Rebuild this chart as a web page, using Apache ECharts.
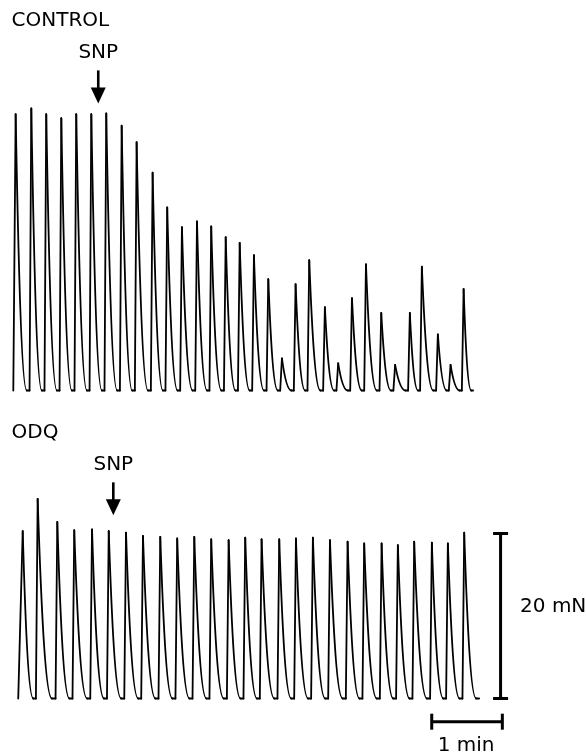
<!DOCTYPE html>
<html>
<head>
<meta charset="utf-8">
<script src="https://cdn.jsdelivr.net/npm/echarts/dist/echarts.min.js"></script>
<style>
html,body{margin:0;padding:0;background:#ffffff;}
#chart{width:586px;height:755px;}
</style>
</head>
<body>
<div id="chart"></div>
<script>
// ---------------- DATA ----------------
// CONTROL trace: time of each contraction peak (s) and its peak force (mN)
const controlPeakTimes = [13.3, 26.6, 39.3, 52.1, 64.8, 77.6, 90.3, 103.4, 116.1, 129.7, 142.1, 154.6, 167.4, 179.5, 191.8, 203.7, 215.8, 228.0, 239.6, 251.2, 262.8, 276.1, 287.4, 299.1, 311.0, 324.0, 335.8, 348.3, 358.5, 372.1, 382.9, 394.0];
const controlPeakForces = [33.5, 34.2, 33.5, 33.0, 33.5, 33.5, 33.6, 32.1, 30.1, 26.4, 22.2, 19.8, 20.5, 19.9, 18.6, 17.9, 16.4, 13.5, 3.9, 12.9, 15.8, 10.1, 3.3, 11.2, 15.3, 9.4, 3.1, 9.4, 15.0, 6.8, 3.1, 12.3];
const controlTraceSpan = [11.3, 402.1];   // start / end of recording (s)

// ODQ trace
const odqPeakTimes = [19.3, 32.0, 48.7, 63.1, 78.2, 92.4, 107.1, 121.5, 136.2, 150.6, 165.1, 179.5, 194.3, 208.4, 222.3, 237.3, 251.5, 265.9, 280.4, 295.4, 309.5, 324.3, 338.1, 352.0, 367.0, 380.6, 394.5];
const odqPeakForces = [20.3, 24.2, 21.4, 20.4, 20.5, 20.3, 20.1, 19.7, 19.6, 19.4, 19.6, 19.3, 19.2, 19.5, 19.3, 19.3, 19.4, 19.5, 19.2, 19.0, 18.8, 18.8, 18.6, 19.0, 18.9, 18.8, 20.1];
const odqTraceSpan = [15.5, 407.2];

// SNP addition times (s)
const snpTimes = [83.5, 96.3];
const panelLabels = ['CONTROL', 'ODQ'];
const snpLabel = 'SNP';

// Calibration bars
const scaleForce = 20;   // mN
const scaleTime = 60;    // s
const scaleForceLabel = '20 mN';
const scaleTimeLabel = '1 min';

// ---------------- LAYOUT / STYLE ----------------
const FONT = '20px "DejaVu Sans", Verdana, sans-serif';
const RISE = 1.5;          // s, rise time drawn for each contraction
const DECAY_FRAC = 0.8;    // fraction of the interval used by the relaxation curve
const TRACE_W = 1.8;
const X_MAX = 498;         // s across full width
const topArrowTip = 34.8, botArrowTip = 22.2; // mN level of arrow tips
const vBarTime = 425.4, hBarStart = 366.9, hBarLevel = -2.81;

function buildTrace(times, forces, span) {
  return times.map(function (t, i) {
    const riseStart = i === 0 ? span[0] : t - RISE;
    const decayEnd = i === times.length - 1 ? span[1] : times[i + 1] - RISE;
    return [t, forces[i], riseStart, decayEnd];
  });
}

function traceItem(params, api) {
  const t = api.value(0), f = api.value(1), rs = api.value(2), de = api.value(3);
  const p0 = api.coord([rs, 0]);
  const pk = api.coord([t, f]);
  const p3 = api.coord([de, 0]);
  const w = (p3[0] - pk[0]) * DECAY_FRAC, h = p3[1] - pk[1];
  const xe = pk[0] + w;
  const st = {stroke: '#000', lineWidth: TRACE_W, fill: 'none', lineCap: 'round', lineJoin: 'round'};
  return {
    type: 'group',
    children: [
      {type: 'line', shape: {x1: p0[0], y1: p0[1], x2: pk[0], y2: pk[1]}, style: st},
      {type: 'bezierCurve', shape: {
        x1: pk[0], y1: pk[1], x2: xe, y2: p3[1],
        cpx1: pk[0] + 0.25 * w, cpy1: pk[1] + 0.55 * h,
        cpx2: pk[0] + 0.55 * w, cpy2: p3[1]
      }, style: st},
      {type: 'line', shape: {x1: xe, y1: p3[1], x2: p3[0], y2: p3[1]}, style: st}
    ]
  };
}

function arrowItem(tipLevel) {
  return function (params, api) {
    const tip = api.coord([api.value(0), tipLevel]);
    const x = tip[0], yTip = tip[1];
    const headH = 16, shaft = 17, halfW = 7.5;
    const yBase = yTip - headH, yTail = yBase - shaft;
    return {
      type: 'group',
      children: [
        {type: 'line', shape: {x1: x, y1: yTail, x2: x, y2: yBase + 2}, style: {stroke: '#000', lineWidth: 2.6}},
        {type: 'polygon', shape: {points: [[x - halfW, yBase], [x + halfW, yBase], [x, yTip]]}, style: {fill: '#000'}},
        {type: 'text', x: x, y: yTail - 18, style: {text: snpLabel, font: FONT, fill: '#000', textAlign: 'center', textVerticalAlign: 'middle'}}
      ]
    };
  };
}

function scaleBarItem(params, api) {
  const v0 = api.coord([vBarTime, 0]);
  const v1 = api.coord([vBarTime, scaleForce]);
  const h0 = api.coord([hBarStart, hBarLevel]);
  const h1 = api.coord([hBarStart + scaleTime, hBarLevel]);
  const st = {stroke: '#000', lineWidth: 3};
  const cap = 7.5;
  return {
    type: 'group',
    children: [
      {type: 'line', shape: {x1: v0[0], y1: v0[1], x2: v1[0], y2: v1[1]}, style: st},
      {type: 'line', shape: {x1: v0[0] - cap, y1: v0[1], x2: v0[0] + cap, y2: v0[1]}, style: st},
      {type: 'line', shape: {x1: v1[0] - cap, y1: v1[1], x2: v1[0] + cap, y2: v1[1]}, style: st},
      {type: 'line', shape: {x1: h0[0], y1: h0[1], x2: h1[0], y2: h1[1]}, style: st},
      {type: 'line', shape: {x1: h0[0], y1: h0[1] - 8, x2: h0[0], y2: h0[1] + 8}, style: st},
      {type: 'line', shape: {x1: h1[0], y1: h1[1] - 8, x2: h1[0], y2: h1[1] + 8}, style: st},
      {type: 'text', x: v0[0] + 19.5, y: (v0[1] + v1[1]) / 2 - 9.5, style: {text: scaleForceLabel, font: FONT, fill: '#000', textAlign: 'left', textVerticalAlign: 'middle'}},
      {type: 'text', x: (h0[0] + h1[0]) / 2 - 1, y: h0[1] + 24, style: {text: scaleTimeLabel, font: FONT, fill: '#000', textAlign: 'center', textVerticalAlign: 'middle'}}
    ]
  };
}

const chart = echarts.init(document.getElementById('chart'), null, {renderer: 'canvas'});
const PXM = 8.25; // px per mN
chart.setOption({
  animation: false,
  backgroundColor: '#ffffff',
  graphic: [
    {type: 'text', left: 11.5, top: 11, style: {text: panelLabels[0], font: FONT, fill: '#000'}},
    {type: 'text', left: 11.5, top: 423, style: {text: panelLabels[1], font: FONT, fill: '#000'}}
  ],
  grid: [
    {left: 0, width: 586, top: 390.5 - 40 * PXM, height: 42 * PXM},
    {left: 0, width: 586, top: 698.5 - 24 * PXM, height: 30 * PXM}
  ],
  xAxis: [
    {gridIndex: 0, type: 'value', min: 0, max: X_MAX, show: false},
    {gridIndex: 1, type: 'value', min: 0, max: X_MAX, show: false}
  ],
  yAxis: [
    {gridIndex: 0, type: 'value', min: -2, max: 40, show: false},
    {gridIndex: 1, type: 'value', min: -6, max: 24, show: false}
  ],
  series: [
    {type: 'custom', xAxisIndex: 0, yAxisIndex: 0, clip: false, renderItem: traceItem,
     data: buildTrace(controlPeakTimes, controlPeakForces, controlTraceSpan)},
    {type: 'custom', xAxisIndex: 1, yAxisIndex: 1, clip: false, renderItem: traceItem,
     data: buildTrace(odqPeakTimes, odqPeakForces, odqTraceSpan)},
    {type: 'custom', xAxisIndex: 0, yAxisIndex: 0, clip: false, renderItem: arrowItem(topArrowTip),
     data: [[snpTimes[0]]]},
    {type: 'custom', xAxisIndex: 1, yAxisIndex: 1, clip: false, renderItem: arrowItem(botArrowTip),
     data: [[snpTimes[1]]]},
    {type: 'custom', xAxisIndex: 1, yAxisIndex: 1, clip: false, renderItem: scaleBarItem,
     data: [[vBarTime, scaleForce]]}
  ]
});
</script>
</body>
</html>
